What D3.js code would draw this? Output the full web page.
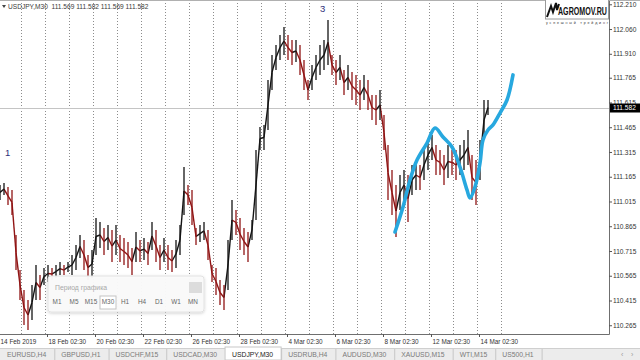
<!DOCTYPE html>
<html>
<head>
<meta charset="utf-8">
<script src="https://cdn.jsdelivr.net/npm/d3@7"></script>
<style>
body{margin:0;background:#fff;}
svg{display:block;font-family:"Liberation Sans",Arial,sans-serif;}
</style>
</head>
<body>
<svg id="chart" width="640" height="360"></svg>
<script>
// USDJPY M30, one bar every 4 hours
var highs = [111.115,111.127,111.103,111.085,110.812,110.600,110.479,110.418,110.509,110.630,
	110.569,110.612,110.630,110.612,110.630,110.648,110.630,110.648,110.691,110.751,
	110.812,110.782,110.691,110.721,110.915,110.891,110.854,110.872,110.842,110.872,
	110.812,110.794,110.769,110.733,110.830,110.782,110.794,110.769,110.891,110.842,
	110.751,110.794,110.751,110.721,110.782,110.872,111.224,111.115,111.085,110.854,
	110.872,110.891,110.842,110.630,110.612,110.539,110.509,110.782,111.024,110.963,
	110.915,110.854,110.830,110.903,111.327,111.466,111.479,111.751,111.903,111.963,
	112.024,112.072,112.024,111.994,111.994,111.963,111.872,111.751,111.842,111.903,
	111.963,111.994,112.115,111.903,111.872,111.903,111.812,111.842,111.800,111.782,
	111.751,111.782,111.751,111.660,111.660,111.691,111.539,111.357,111.206,111.115,
	111.176,111.206,111.176,111.236,111.266,111.236,111.327,111.388,111.418,111.357,
	111.327,111.297,111.357,111.327,111.327,111.357,111.388,111.448,111.297,111.266,
	111.388,111.630,111.630];
var lows = [111.024,111.054,110.994,110.933,110.600,110.418,110.266,110.236,110.297,110.418,
	110.418,110.509,110.527,110.539,110.551,110.569,110.569,110.588,110.569,110.600,
	110.673,110.600,110.539,110.551,110.691,110.733,110.691,110.721,110.648,110.691,
	110.648,110.630,110.612,110.569,110.648,110.648,110.660,110.630,110.721,110.648,
	110.600,110.648,110.600,110.588,110.612,110.691,110.933,110.994,110.872,110.751,
	110.769,110.782,110.660,110.527,110.448,110.388,110.357,110.479,110.782,110.812,
	110.721,110.691,110.648,110.782,110.903,111.327,111.327,111.448,111.691,111.812,
	111.872,111.903,111.872,111.842,111.860,111.782,111.691,111.630,111.691,111.751,
	111.782,111.812,111.842,111.782,111.721,111.751,111.660,111.691,111.630,111.600,
	111.569,111.630,111.569,111.509,111.479,111.509,111.327,111.024,110.933,110.800,
	110.963,111.024,110.891,111.054,111.085,111.085,111.145,111.206,111.266,111.176,
	111.176,111.115,111.157,111.176,111.145,111.176,111.206,111.236,111.024,110.994,
	111.145,111.388,111.539];
var barStart = -1.875;     // in trading days from 18 Feb 02:30
var barStep = 1 / 6;

var gridDays = d3.range(-1, 20);
var labelDays = [-2, 0, 2, 4, 6, 8, 10, 12, 14, 16, 18];
var timeLabels = ['14 Feb 2019', '18 Feb 02:30', '20 Feb 02:30', '22 Feb 02:30', '26 Feb 02:30',
	'28 Feb 02:30', '4 Mar 02:30', '6 Mar 02:30', '8 Mar 02:30', '12 Mar 02:30', '14 Mar 02:30'];
var priceTicks = [112.210, 112.060, 111.910, 111.765, 111.615, 111.465, 111.315, 111.165,
	111.015, 110.865, 110.715, 110.565, 110.415, 110.265];
var lastPrice = 111.582;
var quote = ['111.569', '111.582', '111.569', '111.582'];

// hand drawn forecast line
var waveDays = [14.583, 14.917, 15.208, 15.5, 15.917, 16.25, 16.583, 16.958, 17.292, 17.583,
	17.708, 17.917, 18.125, 18.25, 18.458, 18.667, 18.958, 19.25, 19.5];
var wavePrices = [110.830, 110.982, 111.145, 111.266, 111.369, 111.460, 111.406, 111.345, 111.224, 111.085,
	111.036, 111.103, 111.248, 111.388, 111.448, 111.479, 111.551, 111.630, 111.782];
var waveMarks = [{day: -1.667, price: 111.309, text: '1'}, {day: 11.458, price: 112.181, text: '3'}];

var periods = ['M1', 'M5', 'M15', 'M30', 'H1', 'H4', 'D1', 'W1', 'MN'];
var activePeriod = 'M30';
var tabs = ['EURUSD,H4', 'GBPUSD,H1', 'USDCHF,M15', 'USDCAD,M30', 'USDJPY,M30',
	'USDRUB,H4', 'AUDUSD,M30', 'XAUUSD,M15', 'WTI,M15', 'US500,H1'];
var activeTab = 'USDJPY,M30';

var W = 640, H = 360, plotW = 609, plotH = 334;
var svg = d3.select('#chart');

var x = d3.scaleLinear().domain([-1.875, 23.5]).range([0, plotW]);
var y = d3.scaleLinear().domain([110.212, 112.236]).range([plotH, 0]);

svg.append('rect').attr('width', W).attr('height', H).attr('fill', '#fff');
svg.append('defs').append('clipPath').attr('id', 'plot')
	.append('rect').attr('width', plotW).attr('height', plotH);
var shadow = svg.select('defs').append('filter').attr('id', 'shadow')
	.attr('x', '-10%').attr('y', '-20%').attr('width', '120%').attr('height', '150%');
shadow.append('feDropShadow').attr('dx', 0).attr('dy', 1).attr('stdDeviation', 1.5)
	.attr('flood-color', '#000').attr('flood-opacity', 0.18);

// dotted day grid
svg.append('g').selectAll('line').data(gridDays).enter().append('line')
	.attr('x1', function(d) { return x(d) + 0.5; })
	.attr('x2', function(d) { return x(d) + 0.5; })
	.attr('y1', 0).attr('y2', plotH)
	.attr('stroke', '#8c8c8c').attr('stroke-width', 1).attr('stroke-dasharray', '1,2');

// bid line
svg.append('line').attr('x1', 0).attr('x2', plotW)
	.attr('y1', Math.round(y(lastPrice)) + 0.5).attr('y2', Math.round(y(lastPrice)) + 0.5)
	.attr('stroke', '#c4c4c4');

// price bars: high-low spikes joined through their mid points
var bars = highs.map(function(h, i) {
	return {t: barStart + i * barStep, hi: h, lo: lows[i], mid: (h + lows[i]) / 2};
});
bars.forEach(function(b, i) {
	b.up = i === 0 ? true : b.mid >= bars[i - 1].mid;
	b.prev = i === 0 ? null : bars[i - 1];
});
var colour = function(b) { return b.up ? '#141414' : '#901414'; };
var price = svg.append('g').attr('clip-path', 'url(#plot)');
price.selectAll('path.link').data(bars.slice(1)).enter().append('path').attr('class', 'link')
	.attr('d', function(b) {
		return 'M' + x(b.prev.t) + ',' + y(b.prev.mid) + 'L' + x(b.t) + ',' + y(b.mid);
	})
	.attr('fill', 'none').attr('stroke', colour).attr('stroke-width', 1.4);
price.selectAll('line.spike').data(bars).enter().append('line').attr('class', 'spike')
	.attr('x1', function(b) { return x(b.t); }).attr('x2', function(b) { return x(b.t); })
	.attr('y1', function(b) { return y(b.hi); }).attr('y2', function(b) { return y(b.lo); })
	.attr('stroke', colour).attr('stroke-width', 1.3);

// forecast line
svg.append('path')
	.datum(waveDays.map(function(d, i) { return [d, wavePrices[i]]; }))
	.attr('d', d3.line().x(function(p) { return x(p[0]); }).y(function(p) { return y(p[1]); })
		.curve(d3.curveCatmullRom))
	.attr('fill', 'none').attr('stroke', '#27a8df').attr('stroke-width', 3.6)
	.attr('stroke-linecap', 'round').attr('stroke-linejoin', 'round');

svg.append('g').selectAll('text').data(waveMarks).enter().append('text')
	.attr('x', function(d) { return x(d.day); }).attr('y', function(d) { return y(d.price); })
	.attr('dy', '0.35em').attr('font-size', 9.5).attr('fill', '#2e2e78')
	.text(function(d) { return d.text; });

// frame
svg.append('line').attr('x1', plotW + 0.5).attr('x2', plotW + 0.5).attr('y1', 0).attr('y2', plotH + 0.5)
	.attr('stroke', '#6f6f6f');
svg.append('line').attr('x1', 0).attr('x2', plotW + 0.5).attr('y1', plotH + 0.5).attr('y2', plotH + 0.5)
	.attr('stroke', '#6f6f6f');
svg.append('line').attr('x1', 0).attr('x2', W).attr('y1', 0.5).attr('y2', 0.5)
	.attr('stroke', '#b0b0b0');

// price axis
var yAxis = svg.append('g').attr('transform', 'translate(' + plotW + ',0)')
	.call(d3.axisRight(y).tickValues(priceTicks).tickSize(3).tickFormat(d3.format('.3f')));
yAxis.select('.domain').remove();
yAxis.selectAll('line').attr('stroke', '#555');
yAxis.selectAll('text').attr('x', 4).attr('font-size', 6.6).attr('fill', '#333')
	.attr('font-family', '"Liberation Sans",Arial,sans-serif');

var lp = Math.round(y(lastPrice));
svg.append('rect').attr('x', plotW + 1).attr('y', lp - 4.5).attr('width', W - plotW).attr('height', 9)
	.attr('fill', '#000');
svg.append('text').attr('x', plotW + 4).attr('y', lp).attr('dy', '0.35em')
	.attr('font-size', 6.6).attr('fill', '#fff').text(d3.format('.3f')(lastPrice));

// time axis
var xAxis = svg.append('g').attr('transform', 'translate(2,' + plotH + ')')
	.call(d3.axisBottom(x).tickValues(labelDays).tickSize(3)
		.tickFormat(function(d, i) { return timeLabels[i]; }));
xAxis.select('.domain').remove();
xAxis.selectAll('line').attr('stroke', '#555');
xAxis.selectAll('text').attr('text-anchor', 'start').attr('x', 1).attr('y', 5)
	.attr('font-size', 6.4).attr('fill', '#333')
	.attr('font-family', '"Liberation Sans",Arial,sans-serif');

// header
svg.append('path').attr('d', 'M2,5 L6,5 L4,8 Z').attr('fill', '#444');
svg.append('text').attr('x', 8).attr('y', 8.5).attr('font-size', 6.6).attr('fill', '#3a3a3a')
	.attr('xml:space', 'preserve')
	.text('USDJPY,M30  ' + quote.join(' '));

// logo
var logo = svg.append('g');
logo.append('rect').attr('x', 545.5).attr('y', -1).attr('width', 63).attr('height', 20)
	.attr('fill', '#fff').attr('stroke', '#9a9a9a');
logo.append('path').attr('d', 'M547,17 L551,6 L553,12 L556,3 L557,10 L559,4')
	.attr('fill', 'none').attr('stroke', '#111').attr('stroke-width', 2).attr('stroke-linejoin', 'miter');
logo.append('text').attr('x', 558).attr('y', 15).attr('font-size', 11).attr('font-weight', 'bold')
	.attr('fill', '#111').attr('textLength', 49).attr('lengthAdjust', 'spacingAndGlyphs').text('AGROMOV.RU');
logo.append('text').attr('x', 546).attr('y', 24).attr('font-size', 3.6).attr('fill', '#333')
	.attr('textLength', 62).attr('lengthAdjust', 'spacing').text('успешный трейдинг');

// period panel
var panel = svg.append('g').attr('transform', 'translate(48,276)');
panel.append('rect').attr('width', 156).attr('height', 36).attr('rx', 3)
	.attr('fill', '#fafafa').attr('fill-opacity', 0.96).attr('stroke', '#e2e2e2')
	.attr('filter', 'url(#shadow)');
panel.append('text').attr('x', 7).attr('y', 14).attr('font-size', 6.8).attr('fill', '#a8a8a8')
	.text('Период графика');
panel.append('rect').attr('x', 141).attr('y', 6).attr('width', 13).attr('height', 11).attr('fill', '#dcdcdc');
var pb = panel.selectAll('g.pb').data(periods).enter().append('g').attr('class', 'pb')
	.attr('transform', function(d, i) { return 'translate(' + (9 + i * 17) + ',28)'; });
pb.filter(function(d) { return d === activePeriod; }).append('rect')
	.attr('x', -8).attr('y', -8).attr('width', 16).attr('height', 13)
	.attr('fill', '#fff').attr('stroke', '#c4c4c4');
pb.append('text').attr('text-anchor', 'middle').attr('font-size', 6.4).attr('fill', '#666')
	.text(function(d) { return d; });

// symbol tabs
var tabBar = svg.append('g').attr('transform', 'translate(0,348)');
tabBar.append('rect').attr('width', W).attr('height', 12).attr('fill', '#ececec');
tabBar.append('line').attr('x1', 0).attr('x2', W).attr('y1', 0.5).attr('y2', 0.5).attr('stroke', '#cfcfcf');
var cursor = 0;
tabs.forEach(function(name) {
	var active = name === activeTab;
	var g = tabBar.append('g');
	var bg = g.append('rect').attr('y', active ? -1 : 0.5).attr('height', active ? 13 : 12)
		.attr('fill', active ? '#fff' : 'none');
	var t = g.append('text').attr('x', cursor + 7).attr('y', 9).attr('font-size', 6.8)
		.attr('fill', active ? '#222' : '#7a7a7a').text(name);
	var w = t.node().getComputedTextLength() + 15;
	bg.attr('x', cursor).attr('width', w);
	if (active) {
		bg.attr('stroke', '#c8c8c8');
	}
	cursor += w;
	tabBar.append('line').attr('x1', cursor + 0.5).attr('x2', cursor + 0.5).attr('y1', 1).attr('y2', 12)
		.attr('stroke', '#c6c6c6');
});
tabBar.append('text').attr('x', 621).attr('y', 9).attr('font-size', 7).attr('fill', '#999').text('‹');
tabBar.append('text').attr('x', 631).attr('y', 9).attr('font-size', 7).attr('fill', '#999').text('›');
</script>
</body>
</html>
